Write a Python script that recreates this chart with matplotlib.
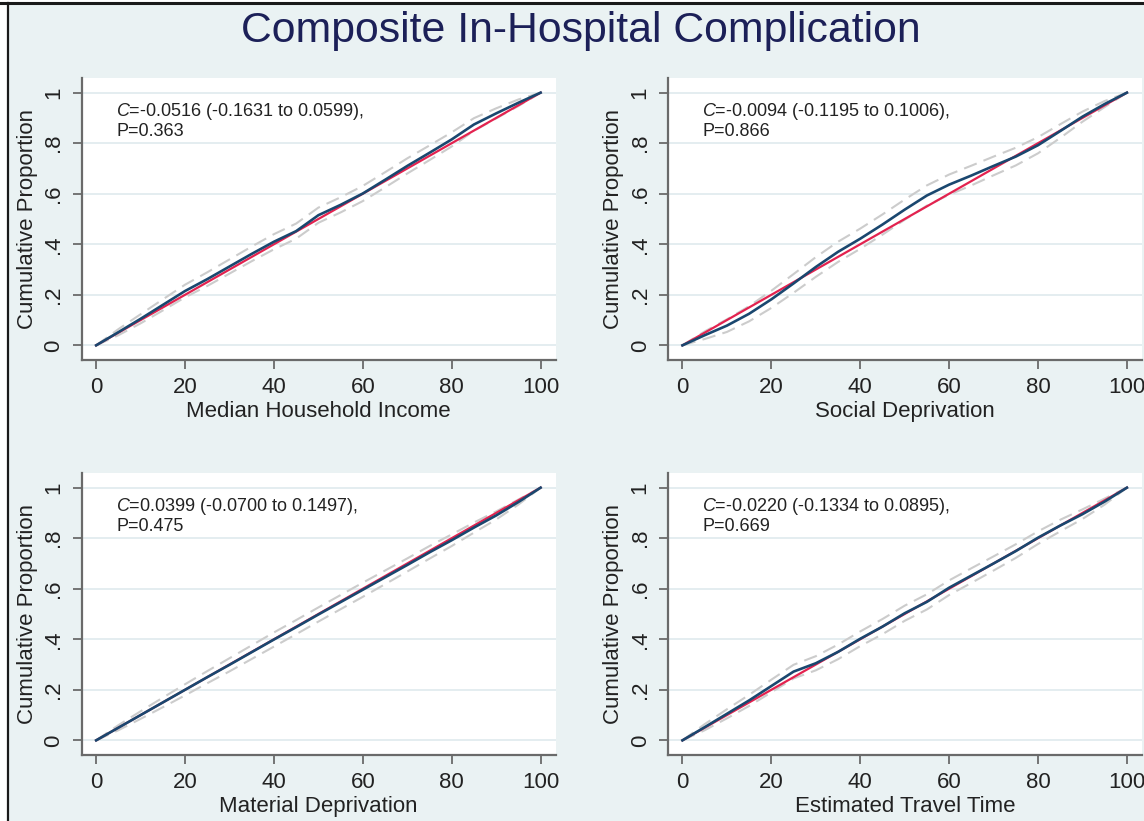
import matplotlib
matplotlib.use('Agg')
import matplotlib.pyplot as plt
from matplotlib.patches import Rectangle
from matplotlib.lines import Line2D

plt.rcParams['font.family'] = ['Liberation Sans', 'DejaVu Sans']
plt.rcParams['mathtext.fontset'] = 'custom'
plt.rcParams['mathtext.it'] = 'Liberation Sans:italic'
plt.rcParams['mathtext.rm'] = 'Liberation Sans'

# ---------------- data ----------------
title = "Composite In-Hospital Complication"
x_labels = ["Median Household Income", "Social Deprivation",
            "Material Deprivation", "Estimated Travel Time"]
c_texts = ["$\\it{C}$=-0.0516 (-0.1631 to 0.0599),",
           "$\\it{C}$=-0.0094 (-0.1195 to 0.1006),",
           "$\\it{C}$=0.0399 (-0.0700 to 0.1497),",
           "$\\it{C}$=-0.0220 (-0.1334 to 0.0895),"]
p_texts = ["P=0.363", "P=0.866", "P=0.475", "P=0.669"]
y_label = "Cumulative Proportion"
x_ticks = [0, 20, 40, 60, 80, 100]
y_ticks = [0, 0.2, 0.4, 0.6, 0.8, 1.0]
y_tick_labels = ["0", ".2", ".4", ".6", ".8", "1"]

equality_x = [0, 100]
equality_y = [0, 1]

pct = [0, 5, 10, 15, 20, 25, 30, 35, 40, 45, 50, 55, 60, 65, 70, 75, 80, 85, 90, 95, 100]

income_curve = [0, .052, .105, .16, .215, .262, .312, .362, .41, .452, .515, .556, .601, .655, .71, .762, .815, .874, .918, .96, 1]
income_upper = [0, .064, .123, .182, .240, .289, .340, .391, .440, .482, .545, .586, .631, .685, .740, .791, .843, .899, .938, .973, 1]
income_lower = [0, .040, .087, .138, .190, .235, .284, .333, .380, .422, .485, .526, .571, .625, .680, .733, .787, .849, .898, .947, 1]

social_curve = [0, .04, .078, .125, .182, .245, .31, .37, .422, .478, .537, .593, .636, .672, .71, .747, .792, .848, .905, .955, 1]
social_upper = [0, .055, .103, .155, .216, .282, .349, .41, .462, .518, .577, .633, .676, .711, .747, .782, .824, .875, .925, .967, 1]
social_lower = [0, .025, .053, .095, .148, .208, .271, .33, .382, .438, .497, .553, .596, .633, .673, .712, .760, .821, .885, .943, 1]

material_curve = [0, .05, .1, .15, .2, .25, .299, .349, .399, .448, .498, .547, .596, .645, .694, .744, .792, .842, .89, .943, 1]
material_upper = [0, .06, .115, .169, .222, .274, .325, .376, .427, .476, .526, .575, .624, .672, .72, .769, .815, .862, .906, .953, 1]
material_lower = [0, .04, .085, .131, .178, .226, .273, .322, .371, .42, .47, .519, .568, .618, .668, .719, .769, .822, .874, .933, 1]

travel_curve = [0, .052, .105, .158, .215, .272, .305, .35, .402, .45, .503, .548, .604, .652, .7, .749, .802, .85, .895, .945, 1]
travel_upper = [0, .064, .123, .18, .24, .299, .333, .379, .431, .48, .533, .578, .633, .681, .728, .776, .827, .873, .914, .957, 1]
travel_lower = [0, .04, .087, .136, .19, .245, .277, .321, .373, .42, .473, .518, .575, .623, .672, .722, .777, .827, .876, .933, 1]

curves = [income_curve, social_curve, material_curve, travel_curve]
uppers = [income_upper, social_upper, material_upper, travel_upper]
lowers = [income_lower, social_lower, material_lower, travel_lower]

# ---------------- figure ----------------
W, H = 1144, 821
fig = plt.figure(figsize=(W / 100, H / 100), dpi=100)
fig.patch.set_facecolor('white')
fig.patches.append(Rectangle((9 / W, 0), 1 - 9 / W, 1 - 5 / H, transform=fig.transFigure,
                             facecolor='#eaf2f3', edgecolor='none', zorder=-10))
fig.lines.append(Line2D([0, 1], [1 - 3.5 / H, 1 - 3.5 / H], transform=fig.transFigure,
                        color='#1a1a1a', lw=2.2))
fig.lines.append(Line2D([7.5 / W, 7.5 / W], [0, 1 - 3.5 / H], transform=fig.transFigure,
                        color='#1a1a1a', lw=1.6))

fig.text(581 / W, 1 - 42 / H, title, ha='center', va='baseline',
         fontsize=30.8, color='#1c2058')

axis_col = '#6a6a6a'
positions = [(81.7, 78), (668, 78), (81.7, 473), (668, 473)]
aw, ah = 473.8, 282

for i, (l, t) in enumerate(positions):
    ax = fig.add_axes([l / W, 1 - (t + ah) / H, aw / W, ah / H])
    ax.set_facecolor('white')
    ax.set_xlim(-3.25, 103.35)
    ax.set_ylim(-0.058, 1.058)
    for s in ['top', 'right']:
        ax.spines[s].set_visible(False)
    for s in ['left', 'bottom']:
        ax.spines[s].set_color(axis_col)
        ax.spines[s].set_linewidth(1.6)
    ax.set_xticks(x_ticks)
    ax.set_yticks(y_ticks)
    ax.set_yticklabels(y_tick_labels, rotation=90, va='center')
    ax.tick_params(direction='out', length=6.5, width=1.3, color=axis_col,
                   labelsize=16, pad=6, labelcolor='#222222')
    ax.yaxis.grid(True, color='#e2ecef', lw=1.3)
    ax.set_axisbelow(True)

    ax.plot(pct, uppers[i], color='#cccccc', lw=1.5, dashes=(6.5, 3.5), zorder=2)
    ax.plot(pct, lowers[i], color='#cccccc', lw=1.5, dashes=(6.5, 3.5), zorder=2)
    ax.plot(equality_x, equality_y, color='#e3224f', lw=1.6, zorder=3)
    ax.plot(pct, curves[i], color='#1a476f', lw=1.9, zorder=4)

    ax.text(4.5, 0.924, c_texts[i], fontsize=13, va='center', ha='left', color='#222222')
    ax.text(4.5, 0.845, p_texts[i], fontsize=13, va='center', ha='left', color='#222222')

    ax.set_xlabel(x_labels[i], fontsize=16, labelpad=2, color='#222222')
    ax.set_ylabel(y_label, fontsize=16, labelpad=4, color='#222222')

fig.savefig('out.png', dpi=100, facecolor=fig.get_facecolor())
